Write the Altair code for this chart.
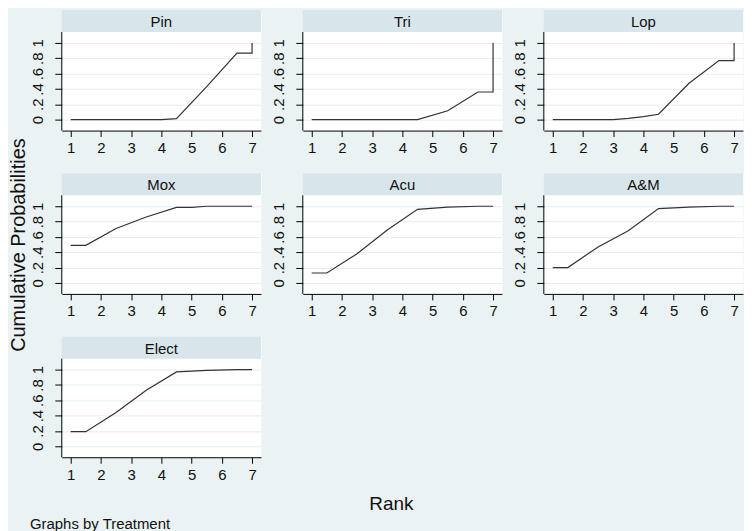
import altair as alt
import pandas as pd

# ---- data (cumulative ranking probabilities) ----
pin_rank = [1, 4, 4.5, 5.5, 6.5, 7, 7]
pin_cum = [0, 0, 0.013, 0.43, 0.866, 0.866, 1]

tri_rank = [1, 4.5, 5.5, 6.5, 7, 7]
tri_cum = [0, 0, 0.116, 0.36, 0.36, 1]

lop_rank = [1, 3, 3.5, 4, 4.5, 5.5, 6.5, 7, 7]
lop_cum = [0, 0, 0.015, 0.04, 0.07, 0.47, 0.77, 0.77, 1]

mox_rank = [1, 1.5, 2.5, 3.5, 4.5, 5, 5.5, 7]
mox_cum = [0.49, 0.49, 0.71, 0.86, 0.985, 0.985, 1, 1]

acu_rank = [1, 1.5, 2.5, 3.5, 4.5, 5.5, 6.5, 7]
acu_cum = [0.13, 0.13, 0.38, 0.69, 0.96, 0.99, 1, 1]

am_rank = [1, 1.5, 2.5, 3.5, 4.5, 5.5, 6.5, 7]
am_cum = [0.2, 0.2, 0.47, 0.68, 0.97, 0.99, 1, 1]

elect_rank = [1, 1.5, 2.5, 3.5, 4.5, 5.5, 6.5, 7]
elect_cum = [0.19, 0.19, 0.44, 0.73, 0.97, 0.99, 1, 1]

treatments = ["Pin", "Tri", "Lop", "Mox", "Acu", "A&M", "Elect"]
series = {
    "Pin": (pin_rank, pin_cum),
    "Tri": (tri_rank, tri_cum),
    "Lop": (lop_rank, lop_cum),
    "Mox": (mox_rank, mox_cum),
    "Acu": (acu_rank, acu_cum),
    "A&M": (am_rank, am_cum),
    "Elect": (elect_rank, elect_cum),
}
x_ticks = [1, 2, 3, 4, 5, 6, 7]
y_ticks = [0, 0.2, 0.4, 0.6, 0.8, 1]

# ---- style ----
FONT = "Liberation Sans"
BG = "#EAF2F3"
STRIP = "#D8E5EB"
GRID = "#E4EDF0"
LINE = "#333333"
W = 200        # plot width per panel
PH = 99        # plot height (white area)
HH = 22        # header strip height
CH = HH + PH   # facet cell height
COL_GAP = 42
ROW_GAP = 43
UNIT = PH / (1 + 2 * 0.1429)  # px per probability unit

# build one table for the faceted layers
recs = []
for t in treatments:
    xs, ys = series[t]
    recs.append({"treatment": t, "kind": "head"})
    for i, (x, y) in enumerate(zip(xs, ys)):
        recs.append({"treatment": t, "kind": "line", "rank": x, "cum": y, "ord": i})
df = pd.DataFrame(recs)

y_top = 1.1429 + HH / UNIT

strip = (
    alt.Chart()
    .transform_filter("datum.kind == 'head'")
    .mark_rect(fill=STRIP)
    .encode(x=alt.value(0), x2=alt.value(W), y=alt.value(0), y2=alt.value(HH))
)
strip_txt = (
    alt.Chart()
    .transform_filter("datum.kind == 'head'")
    .mark_text(font=FONT, fontSize=15, color="#111111", align="center", baseline="middle")
    .encode(text="treatment:N", x=alt.value(W / 2), y=alt.value(HH / 2 + 1))
)
left_axis = (
    alt.Chart()
    .transform_filter("datum.kind == 'head'")
    .mark_rule(color="#000000", strokeWidth=1)
    .encode(x=alt.value(0), y=alt.value(HH), y2=alt.value(CH))
)
line = (
    alt.Chart()
    .transform_filter("datum.kind == 'line'")
    .mark_line(color=LINE, strokeWidth=1.2)
    .encode(
        x=alt.X(
            "rank:Q",
            scale=alt.Scale(domain=[0.705, 7.295], nice=False, zero=False),
            axis=alt.Axis(values=x_ticks, title=None, grid=False, labelFlush=False,
                          tickSize=6, labelPadding=4, format="d"),
        ),
        y=alt.Y(
            "cum:Q",
            scale=alt.Scale(domain=[-0.1429, y_top], nice=False, zero=False),
            axis=alt.Axis(
                values=y_ticks, title=None, grid=True, domain=False, tickSize=7, labelPadding=9,
                labelAngle=270, labelAlign="center", labelBaseline="bottom",
                labelOverlap=False, labelFlush=False,
                labelExpr="datum.value == 0 ? '0' : datum.value == 1 ? '1' : substring(format(datum.value, '.1f'), 1)",
            ),
        ),
        order="ord:Q",
    )
)

# panel names are drawn in the strips, so the facet's own header is emptied
hidden_header = alt.Header(labels=False, labelExpr="''", labelFontSize=0,
                           labelPadding=0, labelColor="transparent", titlePadding=0)

cells = (
    alt.layer(line, strip, strip_txt, left_axis, data=df)
    .properties(width=W, height=CH)
    .facet(
        facet=alt.Facet("treatment:N", sort=treatments, title=None, header=hidden_header),
        columns=3,
        spacing={"row": ROW_GAP, "column": COL_GAP},
        bounds="flush",
    )
    .resolve_axis(x="independent", y="independent")
)

rows_h = 3 * CH + 2 * ROW_GAP

ytitle = (
    alt.Chart(pd.DataFrame({"t": ["Cumulative Probabilities"]}))
    .mark_text(font=FONT, fontSize=20, color="#111111", angle=270, align="center", baseline="middle")
    .encode(text="t:N", x=alt.value(8), y=alt.value(236))
    .properties(width=16, height=rows_h, view=alt.ViewBackground(fill="transparent", stroke="transparent"))
)

top = alt.hconcat(ytitle, cells, spacing=0)

total_w = 16 + 35 + 3 * W + 2 * COL_GAP
bottom_df = pd.DataFrame({"t": ["Rank", "Graphs by Treatment"]})
rank_txt = (
    alt.Chart(bottom_df)
    .transform_filter("datum.t == 'Rank'")
    .mark_text(font=FONT, fontSize=19, color="#111111", align="center", baseline="middle")
    .encode(text="t:N", x=alt.value(382), y=alt.value(20))
)
cap_txt = (
    alt.Chart(bottom_df)
    .transform_filter("datum.t == 'Graphs by Treatment'")
    .mark_text(font=FONT, fontSize=15, color="#111111", align="left", baseline="middle")
    .encode(text="t:N", x=alt.value(19), y=alt.value(40))
)
bottom = alt.layer(rank_txt, cap_txt).properties(
    width=total_w, height=46, view=alt.ViewBackground(fill="transparent", stroke="transparent")
)

chart = (
    alt.vconcat(top, bottom, spacing=0)
    .properties(padding=0, background=BG)
    .configure_view(fill="white", stroke="transparent")
    .configure_header(labels=False, labelExpr="''", labelFontSize=0, labelPadding=0,
                      labelColor="transparent", titlePadding=0)
    .configure_axis(
        labelFont=FONT, labelFontSize=15, labelColor="#111111",
        domainColor="#000000", domainWidth=1, tickColor="#000000", tickWidth=1,
        gridColor=GRID, gridWidth=1,
    )
)

chart.save("out.html", embed_options={"renderer": "svg", "actions": False})
